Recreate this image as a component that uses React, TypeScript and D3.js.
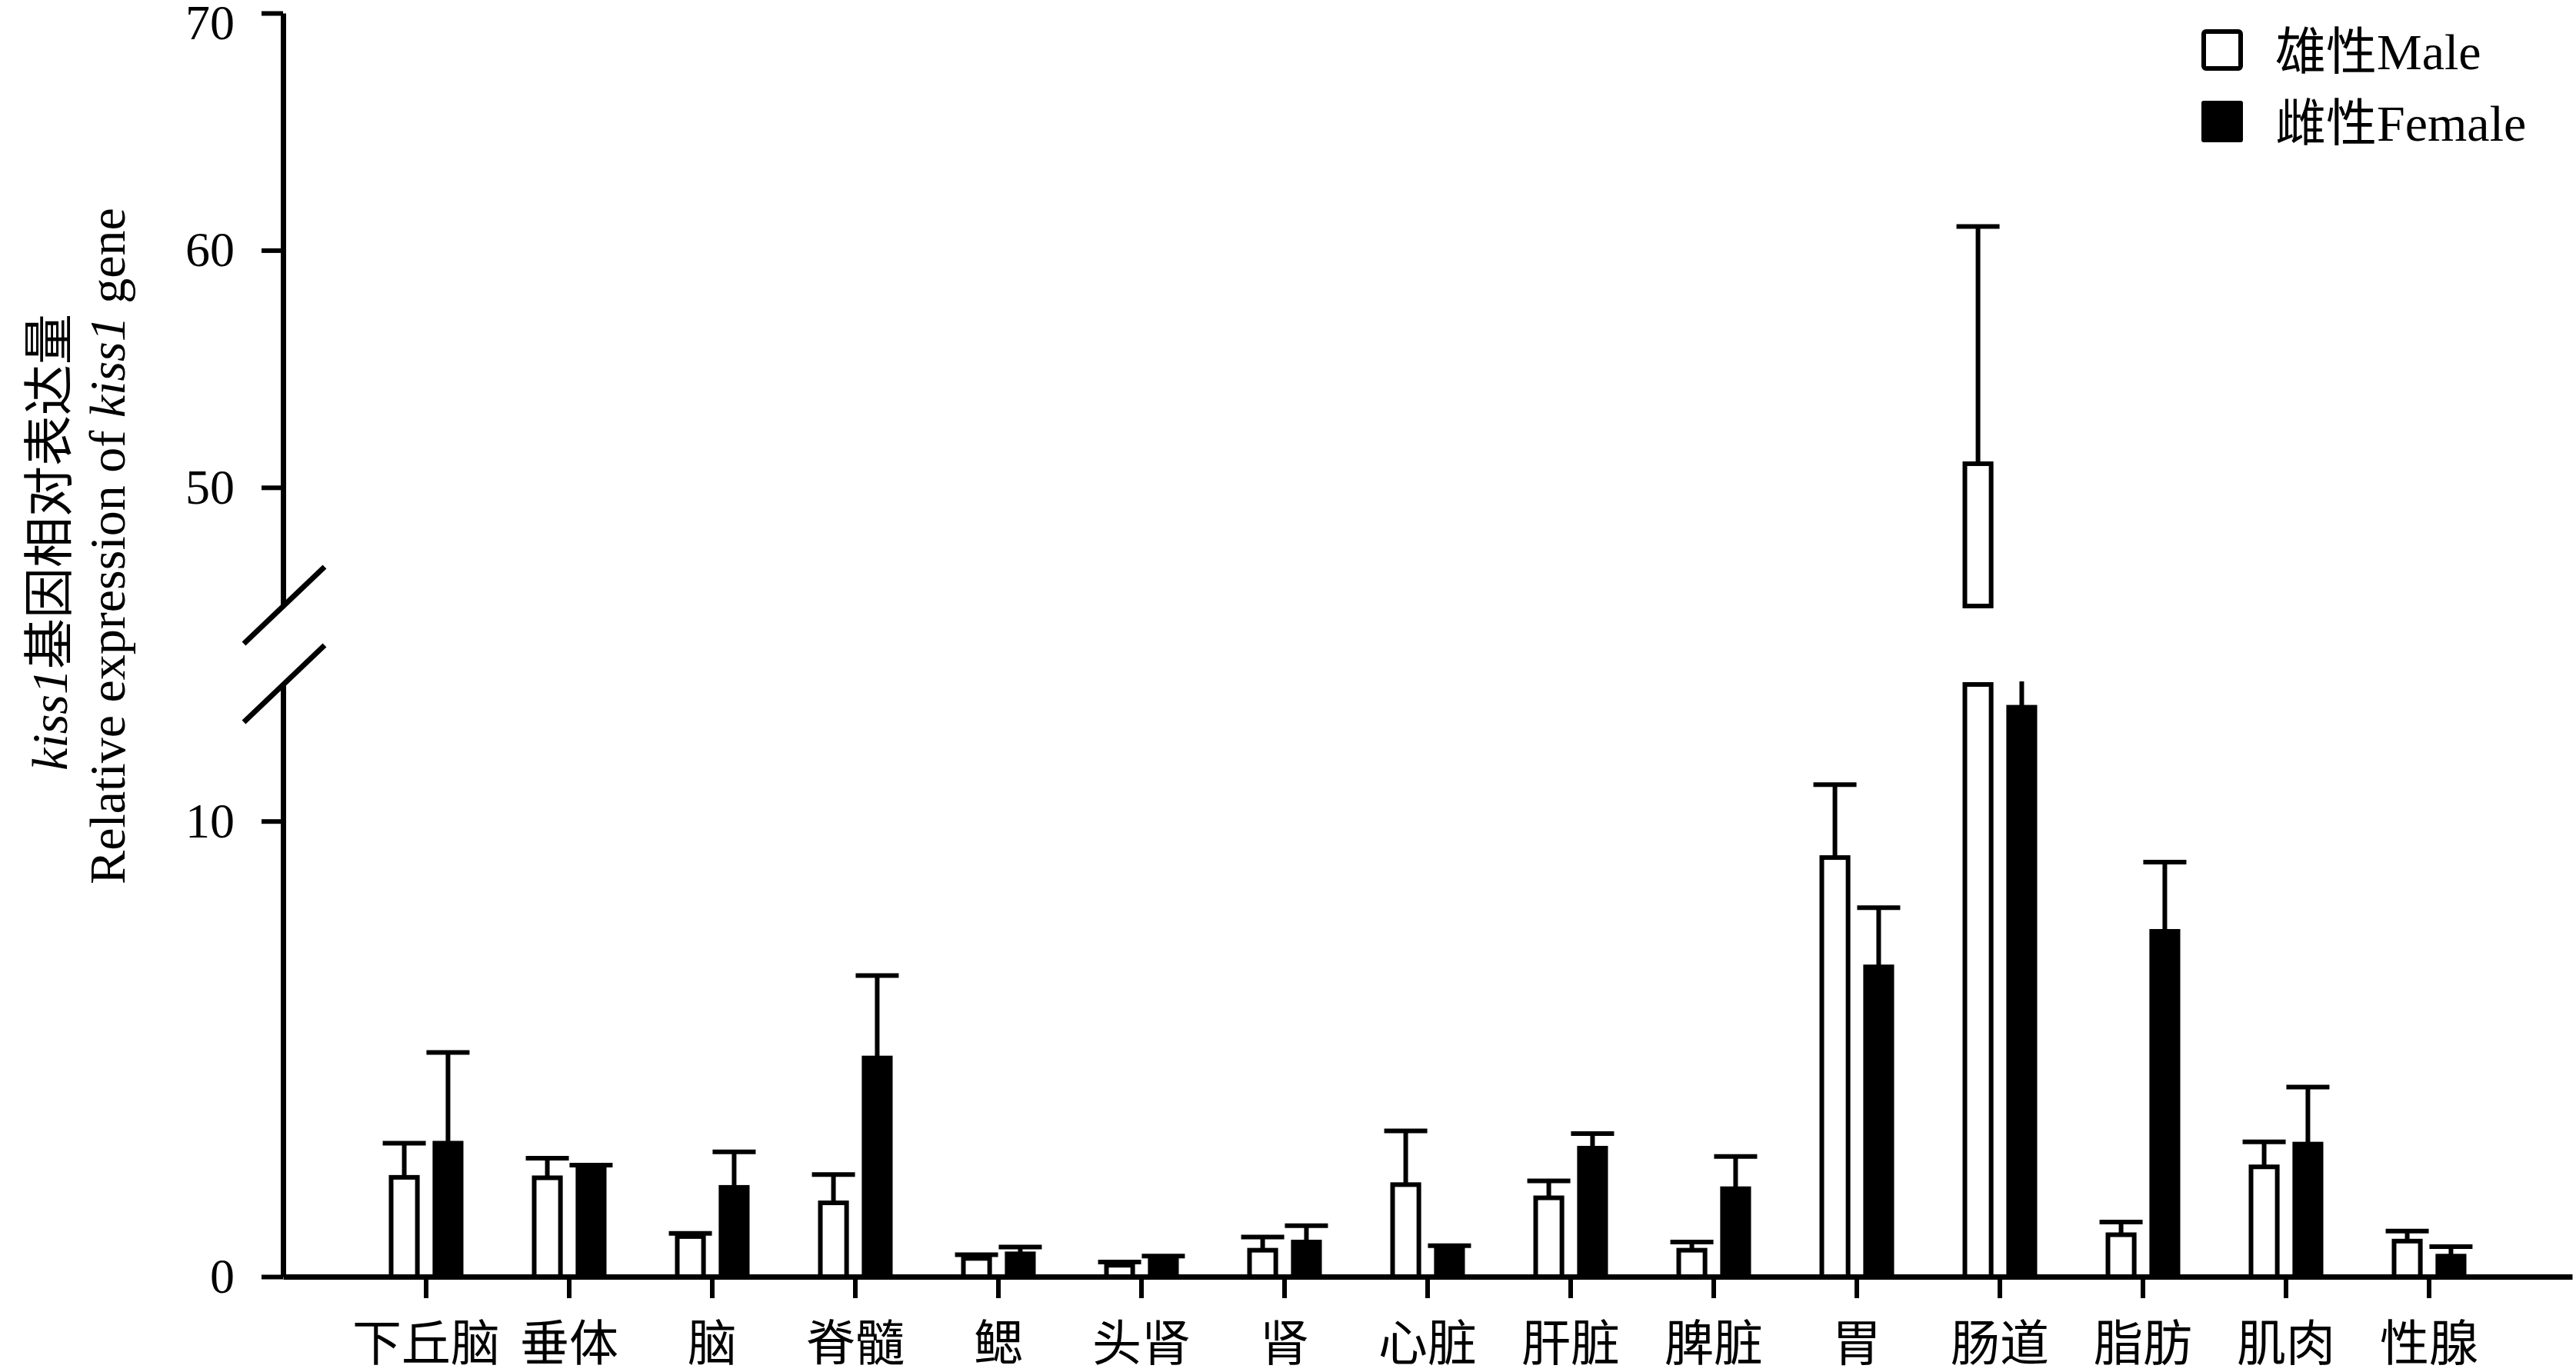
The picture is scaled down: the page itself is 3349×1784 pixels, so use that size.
import React, { useEffect, useRef } from "react";
import * as d3 from "d3";

// tissues on the x axis
const tissues = ["下丘脑", "垂体", "脑", "脊髓", "鳃", "头肾", "肾", "心脏", "肝脏", "脾脏", "胃", "肠道", "脂肪", "肌肉", "性腺"];
const series = ["male", "female"];
const legendLabels = ["雄性Male", "雌性Female"];

// relative expression, mean and SD
const maleMean = [2.18, 2.17, 0.88, 1.62, 0.4, 0.25, 0.58, 2.02, 1.73, 0.58, 9.2, 51, 0.92, 2.41, 0.78];
const maleSD = [0.75, 0.43, 0.07, 0.62, 0.08, 0.07, 0.29, 1.18, 0.37, 0.18, 1.6, 10, 0.28, 0.55, 0.22];
const femaleMean = [2.93, 2.4, 1.96, 4.8, 0.5, 0.42, 0.76, 0.65, 2.82, 1.93, 6.8, 12.5, 7.58, 2.91, 0.45];
const femaleSD = [1.99, 0.05, 0.78, 1.81, 0.15, 0.03, 0.36, 0.03, 0.32, 0.71, 1.3, 1.1, 1.52, 1.25, 0.21];

const lowerTicks = [0, 10];
const upperTicks = [50, 60, 70];
const lowerDomain = [0, 13];
const upperDomain = [45, 70];

const W = 3349;
const H = 1784;
const axisX = 368;
const font = "'Liberation Serif', 'Times New Roman', 'Noto Sans CJK SC', serif";

export default function App() {
  const lowRef = useRef<SVGGElement>(null);
  const upRef = useRef<SVGGElement>(null);
  const xRef = useRef<SVGGElement>(null);

  const x = d3.scaleBand<string>().domain(tissues).range([axisX, axisX + 186 * 16]).paddingInner(0).paddingOuter(0.5);
  const sub = d3.scaleBand<string>().domain(series).range([-45.5, 45.5]).paddingInner(0.4);
  const yLow = d3.scaleLinear().domain(lowerDomain).range([1660, 890]);
  const yUp = d3.scaleLinear().domain(upperDomain).range([788, 17]);

  useEffect(() => {
    const style = (g: any) => {
      g.attr("font-family", font);
      g.select(".domain").attr("stroke-width", 7);
      g.selectAll(".tick line").attr("stroke-width", 6);
    };
    const low = d3.select(lowRef.current!);
    low.call(d3.axisLeft(yLow).tickValues(lowerTicks).tickSize(28).tickSizeOuter(0).tickPadding(35) as any);
    style(low);
    low.selectAll(".tick text").attr("font-size", 64);

    const up = d3.select(upRef.current!);
    up.call(d3.axisLeft(yUp).tickValues(upperTicks).tickSize(28).tickSizeOuter(0).tickPadding(35) as any);
    style(up);
    up.selectAll(".tick text")
      .attr("font-size", 64)
      .attr("y", (d: any) => (d === upperDomain[1] ? 13 : 0));

    const xa = d3.select(xRef.current!);
    xa.call(d3.axisBottom(x).tickSize(28).tickSizeOuter(0) as any);
    style(xa);
    xa.selectAll(".tick text").attr("font-size", 64).attr("y", 86).attr("dy", "0.36em");
  }, []);

  const segments = [
    { key: "low", y: yLow, lo: lowerDomain[0], hi: lowerDomain[1], clipTop: yLow(lowerDomain[1]) - 4, clipBottom: H },
    { key: "up", y: yUp, lo: upperDomain[0], hi: upperDomain[1], clipTop: 0, clipBottom: yUp(upperDomain[0]) + 4 },
  ];

  const rows = tissues.map((t, i) => ({
    tissue: t,
    vals: [
      { s: "male", mean: maleMean[i], sd: maleSD[i] },
      { s: "female", mean: femaleMean[i], sd: femaleSD[i] },
    ],
  }));

  // break marks on the y axis
  const breaks = [yUp(upperDomain[0]), yLow(lowerDomain[1])];

  return (
    <svg width={W} height={H} style={{ position: "absolute", left: 0, top: 0, background: "#fff" }}>
      <defs>
        {segments.map((seg) => (
          <clipPath id={"clip-" + seg.key} key={seg.key}>
            <rect x={axisX} y={seg.clipTop} width={W - axisX} height={seg.clipBottom - seg.clipTop} />
          </clipPath>
        ))}
      </defs>

      {segments.map((seg) => (
        <g key={seg.key} clipPath={`url(#clip-${seg.key})`}>
          {rows.map((r) =>
            r.vals.map((v) => {
              const cx = (x(r.tissue) as number) + x.bandwidth() / 2;
              const bx = cx + (sub(v.s) as number);
              const bw = sub.bandwidth();
              const top = v.mean + v.sd;
              const fill = v.s === "male" ? "#fff" : "#000";
              return (
                <g key={r.tissue + v.s}>
                  {top > seg.lo && (
                    <g stroke="#000" strokeWidth={6}>
                      <line x1={bx + bw / 2} x2={bx + bw / 2} y1={seg.y(Math.max(v.mean, seg.lo))} y2={seg.y(top)} />
                      <line x1={bx + bw / 2 - 28} x2={bx + bw / 2 + 28} y1={seg.y(top)} y2={seg.y(top)} />
                    </g>
                  )}
                  {v.mean > seg.lo && (
                    <rect
                      x={bx}
                      width={bw}
                      y={seg.y(Math.min(v.mean, seg.hi))}
                      height={seg.y(seg.lo) - seg.y(Math.min(v.mean, seg.hi))}
                      fill={fill}
                      stroke="#000"
                      strokeWidth={6}
                    />
                  )}
                </g>
              );
            })
          )}
        </g>
      ))}

      <g ref={upRef} transform={`translate(${axisX},0)`} />
      <g ref={lowRef} transform={`translate(${axisX},0)`} />
      <g ref={xRef} transform={`translate(0,${yLow(0)})`} />

      {breaks.map((by, i) => (
        <line key={i} x1={axisX - 51} y1={by + 49} x2={axisX + 54} y2={by - 51} stroke="#000" strokeWidth={7} />
      ))}

      <g fontFamily={font} fill="#000">
        <text transform="translate(64,705) rotate(-90)" textAnchor="middle" dominantBaseline="central" fontSize={66}>
          <tspan fontStyle="italic">kiss1</tspan>基因相对表达量
        </text>
        <text transform="translate(139,710) rotate(-90)" textAnchor="middle" dominantBaseline="central" fontSize={66}>
          Relative expression of <tspan fontStyle="italic">kiss1</tspan> gene
        </text>
      </g>

      <g fontFamily={font}>
        {legendLabels.map((lab, i) => (
          <g key={lab} transform={`translate(0,${i * 93})`}>
            {i === 0 ? (
              <rect x={2865} y={41} width={48} height={48} rx={3} fill="#fff" stroke="#000" strokeWidth={6} />
            ) : (
              <rect x={2862} y={38} width={54} height={54} rx={3} fill="#000" />
            )}
            <text x={2958} y={90} fontSize={66}>
              {lab}
            </text>
          </g>
        ))}
      </g>
    </svg>
  );
}
